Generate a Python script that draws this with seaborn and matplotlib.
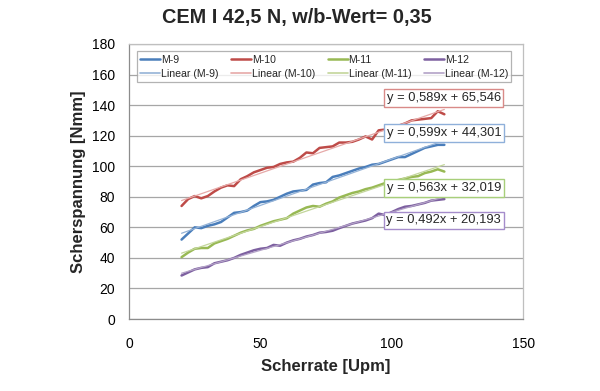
import numpy as np
import matplotlib
matplotlib.use("Agg")
import matplotlib.pyplot as plt
from matplotlib.lines import Line2D
import seaborn as sns

# --- Daten ---
scherrate = [20, 22.5, 25, 27.5, 30, 32.5, 35, 37.5, 40, 42.5, 45, 47.5, 50, 52.5,
             55, 57.5, 60, 62.5, 65, 67.5, 70, 72.5, 75, 77.5, 80, 82.5, 85, 87.5,
             90, 92.5, 95, 97.5, 100, 102.5, 105, 107.5, 110, 112.5, 115, 117.5, 120]

m9 = [52, 56, 60, 59.5, 61, 62, 63.5, 66.5, 69.5, 70, 71, 74, 76.5, 77,
      78, 80, 82, 83.5, 84, 84.5, 88, 89, 89.5, 93, 94, 95.5, 97, 98.5,
      99.5, 101, 101.5, 103, 104.5, 106, 106, 108, 110, 112, 113, 114, 114]
m10 = [74, 78.5, 80.5, 79, 80.5, 83.5, 86, 87.5, 87, 91.5, 93.5, 96, 97.5, 99,
       99.5, 101.5, 102.5, 103, 105.5, 109, 108.5, 112, 112.5, 113, 115.5, 115.5, 116, 117.5,
       119.5, 117.5, 123.5, 124, 124.5, 126.5, 128, 130, 130.5, 131, 131.5, 136, 134]
m11 = [40.5, 43.5, 46, 46.5, 46.5, 49.5, 51, 52.5, 54.5, 56.5, 58, 59, 61, 62.5,
       64, 65, 66, 69, 71, 73, 74, 73.5, 75.5, 77, 79.5, 81, 82.5, 83.5,
       85, 86, 87.5, 89, 90, 91, 92, 93, 93.5, 95.5, 96.5, 98, 96.5]
m12 = [28.5, 30.5, 32.5, 33.5, 34, 36.5, 37.5, 38.5, 40, 42, 43.5, 45, 46, 46.5,
       48.5, 48, 50, 51.5, 52.5, 54, 55, 56.5, 57, 57.8, 59.5, 61, 62.5, 63.5,
       64.5, 66, 69, 68, 70, 72, 73.5, 74, 75, 76, 77.5, 78, 78.5]

namen = ["M-9", "M-10", "M-11", "M-12"]
gleichungen = ["y = 0,599x + 44,301", "y = 0,589x + 65,546",
               "y = 0,563x + 32,019", "y = 0,492x + 20,193"]

# --- Stil ---
farben = ["#4A7EBB", "#BE4B48", "#98B954", "#7D60A0"]
trend_farben = ["#95B3D7", "#E6A9A8", "#C3D69B", "#B3A2C7"]
rahmen_farben = ["#8FB0DA", "#D98A88", "#A8CF7A", "#A58CCB"]
# Position der Gleichungsboxen (Datenkoordinaten)
box_pos = [(119.8, 121.8), (119.8, 144.7), (119.8, 85.8), (119.8, 64.5)]

sns.set_style("white")
plt.rcParams["font.family"] = ["Liberation Sans", "DejaVu Sans"]

fig, ax = plt.subplots(figsize=(6.0, 3.91), dpi=100)
fig.subplots_adjust(left=0.215, right=0.872, top=0.8875, bottom=0.184)

handles, labels = [], []
for name, y, c, tc in zip(namen, [m9, m10, m11, m12], farben, trend_farben):
    sns.lineplot(x=scherrate, y=y, color=c, lw=1.8, ax=ax, zorder=3)
    sns.regplot(x=np.array(scherrate), y=np.array(y), scatter=False, ci=None,
                truncate=True, color=tc, ax=ax, line_kws=dict(lw=0.9, zorder=4))
    handles += [Line2D([], [], color=c, lw=1.8), Line2D([], [], color=tc, lw=1.2)]
    labels += [name, f"Linear ({name})"]

for txt, (bx, by), ec in zip(gleichungen, box_pos, rahmen_farben):
    ax.text(bx, by, txt, ha="center", va="center", fontsize=9.3, zorder=6,
            bbox=dict(boxstyle="square,pad=0.2", fc="white", ec=ec, lw=1))

ax.set_xlim(0, 150)
ax.set_ylim(0, 180)
ax.set_xticks([0, 50, 100, 150])
ax.set_yticks(range(0, 181, 20))
ax.yaxis.grid(True, color="#A6A6A6", lw=0.9)
ax.set_axisbelow(True)
for s in ["top", "right"]:
    ax.spines[s].set_color("#BFBFBF")
    ax.spines[s].set_linewidth(0.9)
for s in ["left", "bottom"]:
    ax.spines[s].set_color("#8C8C8C")
    ax.spines[s].set_linewidth(0.9)
ax.tick_params(axis="both", which="major", direction="out", length=4, width=0.9,
               color="#8C8C8C", labelsize=10, labelcolor="black")
ax.tick_params(axis="y", pad=6)
ax.tick_params(axis="x", pad=9)

ax.set_xlabel("Scherrate [Upm]", fontsize=12, fontweight="bold", labelpad=6)
ax.set_ylabel("Scherspannung [Nmm]", fontsize=12, fontweight="bold", labelpad=4)
fig.text(0.495, 0.956, "CEM I 42,5 N, w/b-Wert= 0,35", ha="center", va="center",
         fontsize=14.3, fontweight="bold")

leg = ax.legend(handles, labels, ncol=4, mode="expand", loc="lower left",
                bbox_to_anchor=(0.02, 0.862, 0.95, 0.127), fontsize=7.6,
                frameon=True, fancybox=False, edgecolor="#A0A0A0",
                handlelength=1.9, handletextpad=0.05, borderpad=0.3,
                labelspacing=0.4, borderaxespad=0, columnspacing=0.5)
leg.get_frame().set_linewidth(0.9)
leg.set_zorder(7)

fig.savefig("out.png", dpi=100)
